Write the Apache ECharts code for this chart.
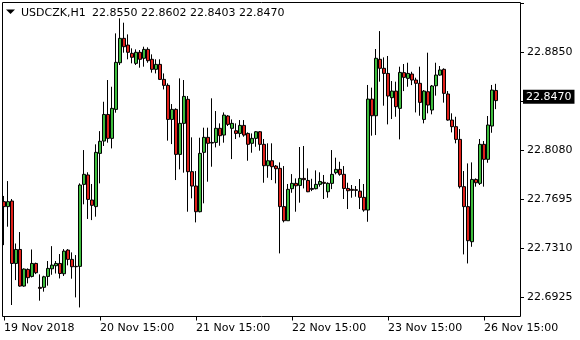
<!DOCTYPE html>
<html><head><meta charset="utf-8">
<script src="https://cdn.jsdelivr.net/npm/echarts@6/dist/echarts.min.js"></script>
<style>html,body{margin:0;padding:0;background:#fff}#c{width:580px;height:340px}</style>
</head><body><div id="c"></div>
<script>
const symbol = 'USDCZK,H1';
const open = [22.7675,22.7636,22.7680,22.7189,22.7299,22.7011,22.7142,22.7087,22.7189,22.7001,
22.7001,22.7087,22.7147,22.7171,22.7189,22.7108,22.7294,22.7221,22.7166,22.7166,
22.7811,22.7885,22.7688,22.7636,22.8055,22.8152,22.8361,22.8173,22.8401,22.8768,
22.8960,22.8907,22.8842,22.8763,22.8850,22.8803,22.8873,22.8795,22.8716,22.8755,
22.8637,22.8590,22.8322,22.8401,22.8047,22.8291,22.8480,22.7911,22.7798,22.7596,
22.8063,22.8181,22.8141,22.8141,22.8252,22.8199,22.8349,22.8252,22.8233,22.8212,
22.8275,22.8212,22.8134,22.8173,22.8225,22.8126,22.7958,22.7997,22.7955,22.7937,
22.7636,22.7525,22.7777,22.7819,22.7803,22.7858,22.7842,22.7779,22.7777,22.7811,
22.7827,22.7753,22.7819,22.7903,22.7929,22.7890,22.7779,22.7772,22.7769,22.7758,
22.7709,22.7609,22.8482,22.8351,22.8795,22.8724,22.8684,22.8493,22.8545,22.8409,
22.8690,22.8645,22.8679,22.8632,22.8606,22.8322,22.8540,22.8396,22.8587,22.8671,
22.8716,22.8522,22.8317,22.8265,22.8165,22.7793,22.7636,22.7360,22.7850,22.7819,
22.8126,22.8008,22.8270,22.8550];
const high = [22.7720,22.7837,22.7696,22.7346,22.7436,22.7150,22.7150,22.7299,22.7195,22.7103,
22.7092,22.7208,22.7325,22.7208,22.7263,22.7302,22.7302,22.7276,22.7255,22.7819,
22.8081,22.7906,22.7814,22.8126,22.8230,22.8461,22.8632,22.8579,22.8999,22.9117,
22.9083,22.8991,22.8881,22.8873,22.8868,22.8894,22.8889,22.8834,22.8795,22.8795,
22.8684,22.8606,22.8443,22.8409,22.8645,22.8632,22.8506,22.8181,22.7916,22.8178,
22.8257,22.8257,22.8488,22.8388,22.8291,22.8377,22.8356,22.8322,22.8291,22.8317,
22.8317,22.8220,22.8212,22.8230,22.8230,22.8168,22.8134,22.8134,22.7963,22.7984,
22.7955,22.7814,22.7892,22.7858,22.8105,22.8113,22.7937,22.7855,22.7921,22.7906,
22.7885,22.7827,22.8081,22.8021,22.7989,22.7955,22.7824,22.7806,22.7798,22.7853,
22.7814,22.8593,22.8572,22.8876,22.9017,22.8810,22.8821,22.8624,22.8619,22.8737,
22.8758,22.8768,22.8697,22.8650,22.8737,22.8553,22.8847,22.8593,22.8768,22.8742,
22.8724,22.8545,22.8370,22.8343,22.8246,22.7916,22.7976,22.7984,22.7858,22.8168,
22.8152,22.8349,22.8593,22.8602];
const low = [22.7333,22.7478,22.6862,22.7058,22.7006,22.7006,22.7032,22.7079,22.7105,22.6896,
22.6967,22.7014,22.7100,22.7110,22.7071,22.7090,22.7174,22.7069,22.6922,22.6843,
22.7654,22.7539,22.7530,22.7557,22.7819,22.8113,22.8139,22.8094,22.8375,22.8750,
22.8847,22.8795,22.8763,22.8750,22.8729,22.8737,22.8768,22.8690,22.8684,22.8632,
22.8558,22.8155,22.8128,22.7845,22.7929,22.7903,22.7596,22.7701,22.7512,22.7591,
22.7662,22.7832,22.7950,22.8102,22.8115,22.8139,22.8270,22.8010,22.8168,22.8181,
22.8186,22.7997,22.8060,22.8107,22.8076,22.7824,22.7863,22.7845,22.7819,22.7268,
22.7512,22.7525,22.7745,22.7596,22.7667,22.7779,22.7750,22.7758,22.7772,22.7793,
22.7696,22.7706,22.7774,22.7890,22.7879,22.7696,22.7617,22.7706,22.7714,22.7617,
22.7596,22.7517,22.8194,22.8199,22.8619,22.8430,22.8283,22.8325,22.8343,22.8165,
22.8545,22.8579,22.8592,22.8377,22.8351,22.8291,22.8370,22.8362,22.8509,22.8666,
22.8454,22.8312,22.8220,22.8134,22.7779,22.7260,22.7189,22.7320,22.7793,22.7806,
22.7793,22.7981,22.8217,22.8403];
const close = [22.7636,22.7675,22.7189,22.7299,22.7011,22.7145,22.7077,22.7189,22.7116,22.6993,
22.7084,22.7150,22.7176,22.7189,22.7110,22.7286,22.7221,22.7163,22.7163,22.7806,
22.7890,22.7693,22.7646,22.8063,22.8150,22.8361,22.8173,22.8409,22.8771,22.8960,
22.8894,22.8850,22.8811,22.8850,22.8795,22.8873,22.8784,22.8716,22.8755,22.8637,
22.8590,22.8322,22.8401,22.8047,22.8291,22.8503,22.7911,22.7798,22.7596,22.8055,
22.8181,22.8134,22.8136,22.8252,22.8194,22.8356,22.8283,22.8291,22.8212,22.8275,
22.8199,22.8126,22.8173,22.8225,22.8126,22.7958,22.7997,22.7950,22.7934,22.7636,
22.7525,22.7772,22.7819,22.7800,22.7858,22.7848,22.7753,22.7772,22.7811,22.7834,
22.7819,22.7819,22.7890,22.7929,22.7890,22.7779,22.7761,22.7764,22.7764,22.7709,
22.7609,22.8482,22.8351,22.8803,22.8724,22.8684,22.8506,22.8545,22.8422,22.8692,
22.8653,22.8684,22.8632,22.8606,22.8456,22.8545,22.8435,22.8585,22.8671,22.8711,
22.8527,22.8317,22.8265,22.8165,22.7793,22.7636,22.7368,22.7850,22.7824,22.8126,
22.8008,22.8278,22.8553,22.8470];
const tickLabels = ['19 Nov 2018','20 Nov 15:00','21 Nov 15:00','22 Nov 15:00','23 Nov 15:00','26 Nov 15:00'];
const tickStep = 24;
const yMin = 22.6925, yMax = 22.9234, yInterval = 0.0385;
const emptySlots = 6;

// hourly categories (weekend skipped)
const categories = [];
let t = Date.UTC(2018, 10, 19, 15);
for (let i = 0; i < open.length + emptySlots; i++) {
  categories.push(new Date(t).toISOString().slice(0, 13));
  t += 3600e3;
  if (new Date(t).getUTCDay() === 6) t += 48 * 3600e3;
}
const n = open.length - 1;
const lastPrice = close[n];
const FONT = 'DejaVu Sans';
const candles = open.map((o, i) => [o, close[i], low[i], high[i]]);
const showTick = (i) => i % tickStep === 0 && i / tickStep < tickLabels.length;

const chart = echarts.init(document.getElementById('c'), null, {renderer: 'canvas'});
chart.setOption({
  animation: false,
  backgroundColor: '#fff',
  grid: {left: 4, right: 60, top: 3.5, bottom: 43, containLabel: false},
  xAxis: {
    type: 'category', data: categories, boundaryGap: false, offset: 19.5,
    axisLine: {show: false, onZero: false},
    axisTick: {show: true, length: 4, interval: showTick, lineStyle: {color: '#000', width: 1}},
    axisLabel: {interval: showTick, formatter: (v, i) => tickLabels[i / tickStep] || '',
      align: 'left', margin: 6, color: '#000', fontFamily: FONT, fontSize: 11},
    splitLine: {show: false}
  },
  yAxis: {
    type: 'value', position: 'right', min: yMin, max: yMax, interval: yInterval, offset: 0,
    axisLine: {show: false},
    axisTick: {show: true, length: 4, lineStyle: {color: '#000', width: 1}},
    axisLabel: {margin: 7, color: '#000', fontFamily: FONT, fontSize: 11,
      formatter: (v) => (v > 22.9 || Math.abs(v - lastPrice) < 0.001) ? '' : v.toFixed(4)},
    splitLine: {show: false}
  },
  series: [{
    type: 'candlestick', data: candles, barWidth: 3, clip: false,
    itemStyle: {color: '#3dbd3d', color0: '#e0201a', borderColor: '#000', borderColor0: '#000',
      borderColorDoji: '#000', borderWidth: 1},
    markLine: {
      silent: true, symbol: 'none', animation: false,
      data: [{yAxis: lastPrice}],
      lineStyle: {color: 'rgba(0,0,0,0)', type: 'solid'},
      label: {position: 'end', formatter: lastPrice.toFixed(4), backgroundColor: '#000', color: '#fff',
        padding: [2, 3, 1, 3], distance: 3, fontFamily: FONT, fontSize: 11}
    }
  }],
  graphic: [
    {type: 'rect', silent: true, z: 100, shape: {x: 2.5, y: 2.5, width: 518, height: 314},
      style: {fill: null, stroke: '#000', lineWidth: 1}},
    {type: 'polygon', silent: true, z: 100, shape: {points: [[6, 9.5], [15, 9.5], [10.5, 14]]},
      style: {fill: '#000'}},
    {type: 'text', silent: true, z: 100, x: 21, y: 13.5,
      style: {text: symbol, font: '11px "DejaVu Sans"', fill: '#000', verticalAlign: 'middle'}},
    {type: 'text', silent: true, z: 100, x: 92, y: 13.5,
      style: {text: [open[n], high[n], low[n], close[n]].map(v => v.toFixed(4)).join(' '),
        font: '11px "DejaVu Sans"', fill: '#000', verticalAlign: 'middle'}}
  ]
});
</script></body></html>
